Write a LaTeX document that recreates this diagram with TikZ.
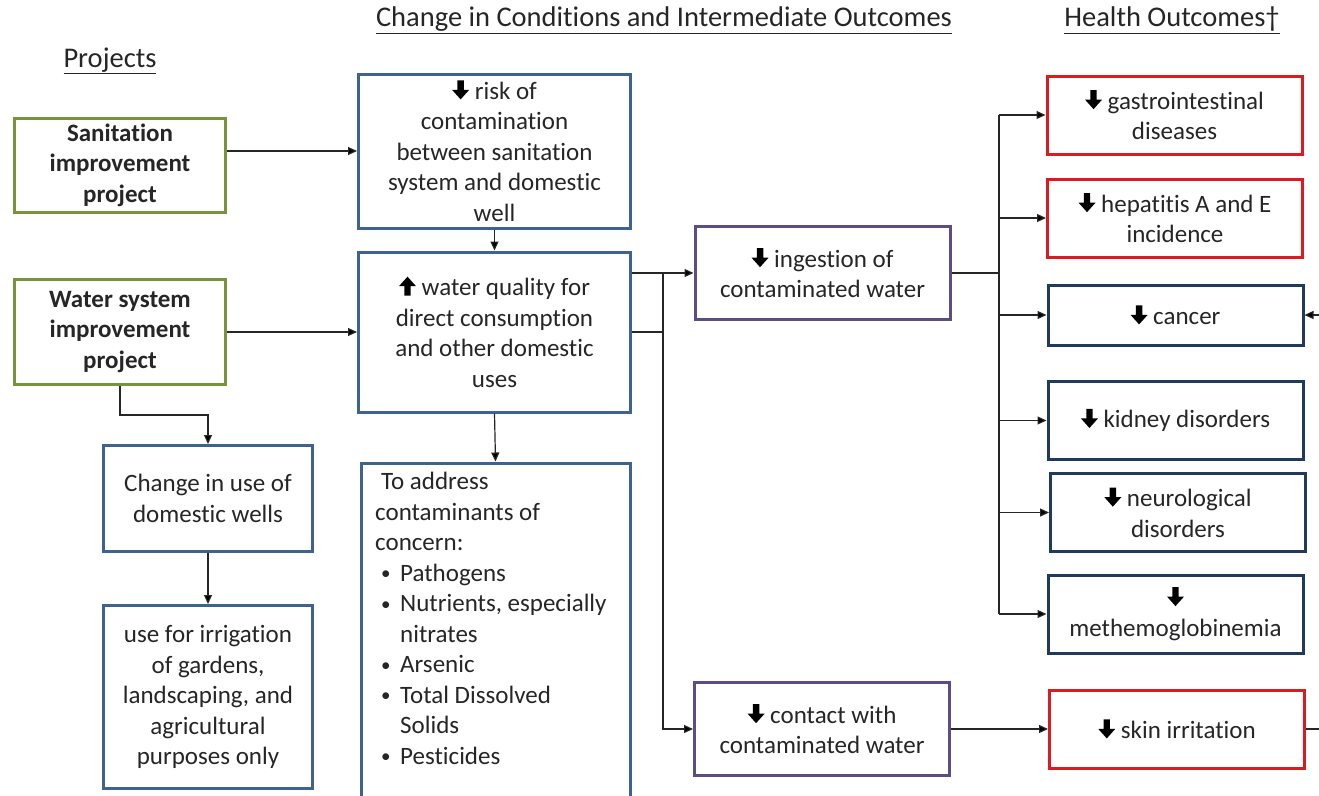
\documentclass[tikz,border=0pt]{standalone}
\usepackage{fontspec}
\setmainfont{Carlito}[Ligatures=NoCommon]
\usetikzlibrary{arrows.meta}

\definecolor{projgreen}{HTML}{77933C}
\definecolor{condblue}{HTML}{3E6390}
\definecolor{routepurple}{HTML}{5E4D85}
\definecolor{outred}{HTML}{DD1A21}
\definecolor{outnavy}{HTML}{1F3A5C}

\newcommand{\bodyfont}{\fontsize{25}{30.5}\selectfont}
\newcommand{\headfont}{\fontsize{28.5}{32}\selectfont}
% bold block arrows used inside the box texts
\newcommand{\dnarr}{\tikz[x=1pt,y=1pt,baseline=0pt]\fill[black,sharp corners] (-3.2,19)--(3.2,19)--(3.2,9.5)--(8.5,9.5)--(0,0)--(-8.5,9.5)--(-3.2,9.5)--cycle;}
\newcommand{\uparr}{\tikz[x=1pt,y=1pt,baseline=0pt]\fill[black,sharp corners] (-3.2,0)--(3.2,0)--(3.2,9.5)--(8.5,9.5)--(0,19)--(-8.5,9.5)--(-3.2,9.5)--cycle;}
% list bullet
\newcommand{\itm}{\makebox[25pt][l]{\hspace{6pt}\raisebox{1.5pt}{\fontsize{19}{24}\selectfont•}}}

\begin{document}
\begin{tikzpicture}[x=1pt,y=-1pt,
  box/.style={draw, line width=3pt, align=center, inner sep=1pt, font=\bodyfont, text=black!85},
  proj/.style={box, draw=projgreen, font=\bodyfont\bfseries, minimum width=211pt},
  cond/.style={box, draw=condblue},
  route/.style={box, draw=routepurple, minimum width=255pt, minimum height=93pt},
  hred/.style={box, draw=outred, minimum width=255pt, minimum height=78pt},
  hnavy/.style={box, draw=outnavy, minimum width=255pt, minimum height=78pt},
  head/.style={font=\headfont, inner sep=0pt, text=black!85},
  arr/.style={draw=black!85, line width=1.2pt, -{Triangle[length=9pt,width=8pt]}},
  link/.style={draw=black!85, line width=1.2pt}
]
\useasboundingbox (0,0) rectangle (1319,795);
\clip (0,0) rectangle (1319,795);
\fill[white] (0,0) rectangle (1319,795);

% column headings
\node[head] (hproj) at (110,61) {\underline{Projects}};
\node[head] (hcond) at (664,20) {\underline{Change in Conditions and Intermediate Outcomes}};
\node[head] (hhealth) at (1172,20) {\underline{Health Outcomes†}};

% projects
\node[proj, minimum height=94pt] (san) at (120,165) {Sanitation\\improvement\\project};
\node[proj, minimum height=105pt] (wat) at (120,332) {Water system\\improvement\\project};

% conditions and intermediate outcomes
\node[cond, minimum width=272pt, minimum height=154pt] (risk) at (494.5,151)
  {\dnarr\ risk of\\contamination\\between sanitation\\system and domestic\\well};
\node[cond, minimum width=272pt, minimum height=160pt] (wq) at (494.5,332)
  {\uparr\ water quality for\\direct consumption\\and other domestic\\uses};
\node[cond, minimum width=209pt, minimum height=106pt] (chg) at (208,498.5)
  {Change in use of\\domestic wells};
\node[cond, minimum width=209pt, minimum height=183pt] (irr) at (208,697)
  {use for irrigation\\of gardens,\\landscaping, and\\agricultural\\purposes only};
\node[cond, minimum width=269pt, minimum height=350pt] (addr) at (495.5,638) {};
\node[anchor=north west, inner sep=0pt, align=left, font=\bodyfont, text=black!85] (addrtxt) at (375,472)
  {\hspace*{6pt}To address\\
   contaminants of\\
   concern:\\
   \itm Pathogens\\
   \itm Nutrients, especially\\
   \hspace*{25pt}nitrates\\
   \itm Arsenic\\
   \itm Total Dissolved\\
   \hspace*{25pt}Solids\\
   \itm Pesticides};

\node[route] (ing) at (822.5,273) {\dnarr\ ingestion of\\contaminated water};
\node[route] (cont) at (822,729) {\dnarr\ contact with\\contaminated water};

% health outcomes
\node[hred] (gas) at (1174.5,115) {\dnarr\ gastrointestinal\\diseases};
\node[hred] (hep) at (1175,218) {\dnarr\ hepatitis A and E\\incidence};
\node[hnavy, minimum height=60pt] (can) at (1175.5,315) {\dnarr\ cancer};
\node[hnavy] (kid) at (1175.5,420.5) {\dnarr\ kidney disorders};
\node[hnavy] (neu) at (1178,512.5) {\dnarr\ neurological\\disorders};
\node[hnavy] (met) at (1175.5,614) {\dnarr\\methemoglobinemia};
\node[hred] (skin) at (1177,729) {\dnarr\ skin irritation};

% junction points and off-page ends
\coordinate (split) at (663,333);
\coordinate (trunk) at (999,273);
\coordinate (canin) at (1330,315);
\coordinate (skinout) at (1330,729);

% project links
\draw[arr] (risk.west -| san.east) -- (risk.west);
\draw[arr] (wat.east) -- (wq.west);
\draw[arr] (wat.south) -- ++(0,29) -| (chg.north);
\draw[arr] (chg.south) -- (irr.north);
\draw[arr] (risk.south) -- (wq.north);
\draw[arr] (wq.south) -- (addr.north);

% exposure routes
\draw[arr] (ing.west -| wq.east) -- (ing.west);
\draw[link] (wq.east) -- (split |- wq.east);
\draw[arr] (split |- ing.west) |- (cont.west);

% ingestion outcomes
\draw[link] (ing.east) -- (trunk);
\draw[link] (trunk |- gas.west) -- (trunk |- met.west);
\foreach \t in {gas,hep,can,kid,neu,met}
  \draw[arr] (trunk |- \t.west) -- (\t.west);

% contact outcome
\draw[arr] (cont.east) -- (skin.west);
\draw[arr] (canin) -- (can.east);
\draw[link] (skin.east) -- (skinout);
\end{tikzpicture}
\end{document}
